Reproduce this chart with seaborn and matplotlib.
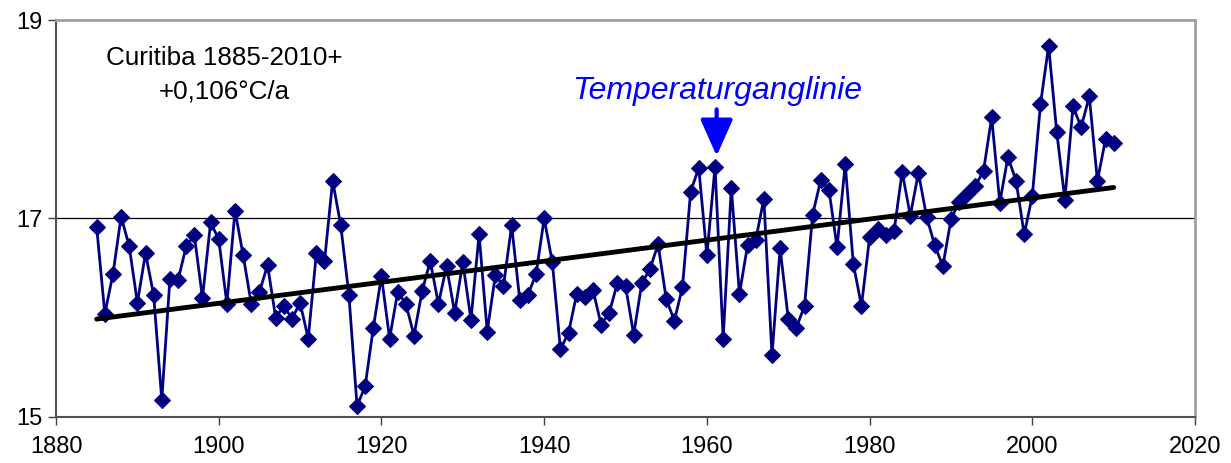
import numpy as np
import pandas as pd
import matplotlib
matplotlib.use("Agg")
import matplotlib.pyplot as plt
import seaborn as sns

years = np.arange(1885, 2011)
temps = [
    16.91, 16.04, 16.44, 17.02, 16.72,
    16.15, 16.65, 16.23, 15.17, 16.39, 16.38, 16.72, 16.83, 16.20, 16.96,
    16.79, 16.14, 17.08, 16.63, 16.14, 16.26, 16.53, 16.00, 16.12, 15.99,
    16.15, 15.79, 16.65, 16.57, 17.38, 16.93, 16.23, 15.11, 15.31, 15.90,
    16.42, 15.79, 16.26, 16.14, 15.82, 16.27, 16.57, 16.14, 16.52, 16.05,
    16.56, 15.98, 16.84, 15.86, 16.43, 16.32, 16.93, 16.18, 16.23, 16.44,
    17.00, 16.56, 15.68, 15.85, 16.24, 16.21, 16.28, 15.93, 16.05, 16.35,
    16.32, 15.83, 16.35, 16.49, 16.74, 16.19, 15.97, 16.31, 17.27, 17.51,
    16.63, 17.52, 15.79, 17.31, 16.24, 16.73, 16.78, 17.20, 15.62, 16.70,
    15.99, 15.90, 16.12, 17.04, 17.39, 17.29, 16.71, 17.55, 16.54, 16.12,
    16.81, 16.89, 16.83, 16.87, 17.47, 17.03, 17.46, 17.02, 16.73, 16.52,
    16.99, 17.17, 17.25, 17.33, 17.48, 18.02, 17.16, 17.62, 17.38, 16.84,
    17.23, 18.15, 18.74, 17.87, 17.19, 18.13, 17.92, 18.23, 17.38, 17.80,
    17.76,
]
x_ticks = [1880, 1900, 1920, 1940, 1960, 1980, 2000, 2020]
y_ticks = [15, 17, 19]

df = pd.DataFrame({"year": years, "temp": temps})

sns.set_style("white")
plt.rcParams["font.family"] = ["Liberation Sans", "DejaVu Sans"]
plt.rcParams["text.color"] = "black"
plt.rcParams["xtick.color"] = "black"
plt.rcParams["ytick.color"] = "black"

fig = plt.figure(figsize=(12.31, 4.63), dpi=100)
ax = fig.add_axes([0.0455, 0.0994, 0.9253, 0.8574])

ax.axhline(17, color="black", lw=0.9, zorder=1)

sns.lineplot(data=df, x="year", y="temp", ax=ax, color="#000080", lw=2.0,
             marker="D", markersize=8, markeredgecolor="#000080", zorder=3)
sns.regplot(data=df, x="year", y="temp", ax=ax, scatter=False, ci=None,
            line_kws={"color": "black", "lw": 3.5, "zorder": 4})

ax.set_xlim(1880, 2020)
ax.set_ylim(15, 19)
ax.set_xticks(x_ticks)
ax.set_yticks(y_ticks)
ax.set_xlabel("")
ax.set_ylabel("")
ax.tick_params(axis="both", labelsize=17, direction="out", length=6,
               width=1, color="#404040", labelcolor="black",
               bottom=True, left=True)
ax.tick_params(axis="x", pad=8)

for side in ["top", "right"]:
    ax.spines[side].set_color("#a0a0a0")
    ax.spines[side].set_linewidth(2)
for side in ["left", "bottom"]:
    ax.spines[side].set_color("#505050")
    ax.spines[side].set_linewidth(1.5)

ax.text(1900.7, 18.62, "Curitiba 1885-2010+", ha="center", va="center",
        fontsize=18.7, color="black")
ax.text(1900.7, 18.28, "+0,106°C/a", ha="center", va="center",
        fontsize=18.7, color="black")

ax.text(1961.3, 18.28, "Temperaturganglinie", ha="center", va="center",
        fontsize=23, style="italic", color="#0000ff")
ax.annotate("", xy=(1961.2, 17.63), xytext=(1961.2, 18.10),
            arrowprops=dict(arrowstyle="-|>,head_length=0.9,head_width=0.4",
                            color="#0000ff", lw=3, mutation_scale=25,
                            shrinkA=0, shrinkB=0))

fig.savefig("out.png", dpi=100)
